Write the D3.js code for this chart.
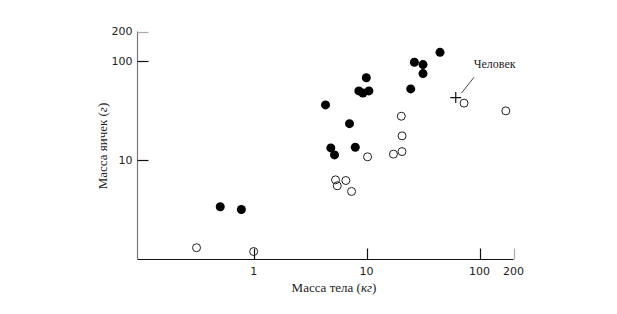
<!DOCTYPE html>
<html><head><meta charset="utf-8">
<script src="https://cdn.jsdelivr.net/npm/d3@7"></script>
<style>body{margin:0;background:#fff}svg{display:block}</style>
</head><body>
<svg id="c" width="617" height="314"></svg>
<script>
// Body mass (kg) and testes mass (g)
const filledX = [0.506, 0.778, 4.33, 4.82, 5.2, 7.06, 7.94, 8.54, 9.27, 10.48, 9.94, 24.6, 26.5, 31.6, 31.6, 44.7];
const filledY = [3.38, 3.17, 36.2, 13.3, 11.3, 23.4, 13.5, 50.1, 47.8, 50.1, 68.2, 52.5, 97.7, 92.5, 75.0, 123];
const openX = [0.312, 1.0, 5.31, 6.55, 5.50, 7.36, 10.2, 17.3, 20.6, 20.6, 20.3, 73, 171];
const openY = [1.30, 1.19, 6.32, 6.22, 5.50, 4.82, 10.8, 11.5, 12.2, 17.6, 27.8, 37.7, 31.5];
const humanX = [61.6];
const humanY = [42.9];
const humanLabel = "Человек";
const xTicks = [1, 10, 100, 200];
const yTicks = [10, 100, 200];
const xTitle = "Масса тела";
const xUnit = "кг";
const yTitle = "Масса яичек";
const yUnit = "г";

const svg = d3.select("#c");
const x = d3.scaleLog().domain([0.094, 200]).range([137.7, 513.5]);
const y = d3.scaleLog().domain([1, 200]).range([259, 31.5]);
const X0 = 137.5, Y0 = 259.5;

// axis lines
svg.append("line").attr("x1", X0).attr("x2", x(200)).attr("y1", Y0).attr("y2", Y0)
  .attr("stroke", "#111").attr("stroke-width", 1.2);
svg.append("line").attr("x1", X0).attr("x2", X0).attr("y1", Y0).attr("y2", y(200))
  .attr("stroke", "#777").attr("stroke-width", 1.2);

// x ticks
const xt = svg.append("g");
xTicks.forEach(t => {
  const px = Math.round(x(t)) + 0.5;
  xt.append("line").attr("x1", px).attr("x2", px).attr("y1", Y0).attr("y2", Y0 - 11)
    .attr("stroke", t === 200 ? "#aaa" : "#111").attr("stroke-width", 1.2);
  xt.append("text").attr("x", x(t)).attr("y", 275).attr("text-anchor", "middle")
    .attr("font-family", "DejaVu Sans").attr("font-size", 11).attr("fill", "#222").text(t);
});
// y ticks
yTicks.forEach(t => {
  const py = Math.round(y(t)) + 0.5;
  xt.append("line").attr("x1", X0).attr("x2", X0 + 11).attr("y1", py).attr("y2", py)
    .attr("stroke", t === 200 ? "#aaa" : "#111").attr("stroke-width", 1.2);
  xt.append("text").attr("x", 132.5).attr("y", y(t)).attr("dy", "0.35em").attr("text-anchor", "end")
    .attr("font-family", "DejaVu Sans").attr("font-size", 11).attr("fill", "#222").text(t);
});

// titles
const xtT = svg.append("text").attr("x", 334).attr("y", 292).attr("text-anchor", "middle")
  .attr("font-family", "Liberation Serif").attr("font-size", 13).attr("fill", "#222");
xtT.append("tspan").text(xTitle + " (");
xtT.append("tspan").attr("font-style", "italic").text(xUnit);
xtT.append("tspan").text(")");
const ytT = svg.append("text").attr("transform", "translate(107,146) rotate(-90)").attr("text-anchor", "middle")
  .attr("font-family", "Liberation Serif").attr("font-size", 13).attr("fill", "#222");
ytT.append("tspan").text(yTitle + " (");
ytT.append("tspan").attr("font-style", "italic").text(yUnit);
ytT.append("tspan").text(")");

// points
svg.append("g").selectAll("circle").data(d3.range(openX.length)).join("circle")
  .attr("cx", i => x(openX[i])).attr("cy", i => y(openY[i])).attr("r", 4)
  .attr("fill", "none").attr("stroke", "#222").attr("stroke-width", 1);
svg.append("g").selectAll("circle").data(d3.range(filledX.length)).join("circle")
  .attr("cx", i => x(filledX[i])).attr("cy", i => y(filledY[i])).attr("r", 4.5)
  .attr("fill", "#000");

// human
const hx = x(humanX[0]), hy = y(humanY[0]);
svg.append("path").attr("d", `M${hx-5.5},${hy}H${hx+5.5}M${hx},${hy-5.5}V${hy+5.5}`)
  .attr("stroke", "#111").attr("stroke-width", 1.2);
svg.append("line").attr("x1", hx + 5.7).attr("y1", hy - 4.4).attr("x2", hx + 18.3).attr("y2", hy - 20.4)
  .attr("stroke", "#333").attr("stroke-width", 0.9);
svg.append("text").attr("x", hx + 18).attr("y", hy - 29.5)
  .attr("font-family", "Liberation Serif").attr("font-size", 12).attr("fill", "#222").text(humanLabel);
</script>
</body></html>
